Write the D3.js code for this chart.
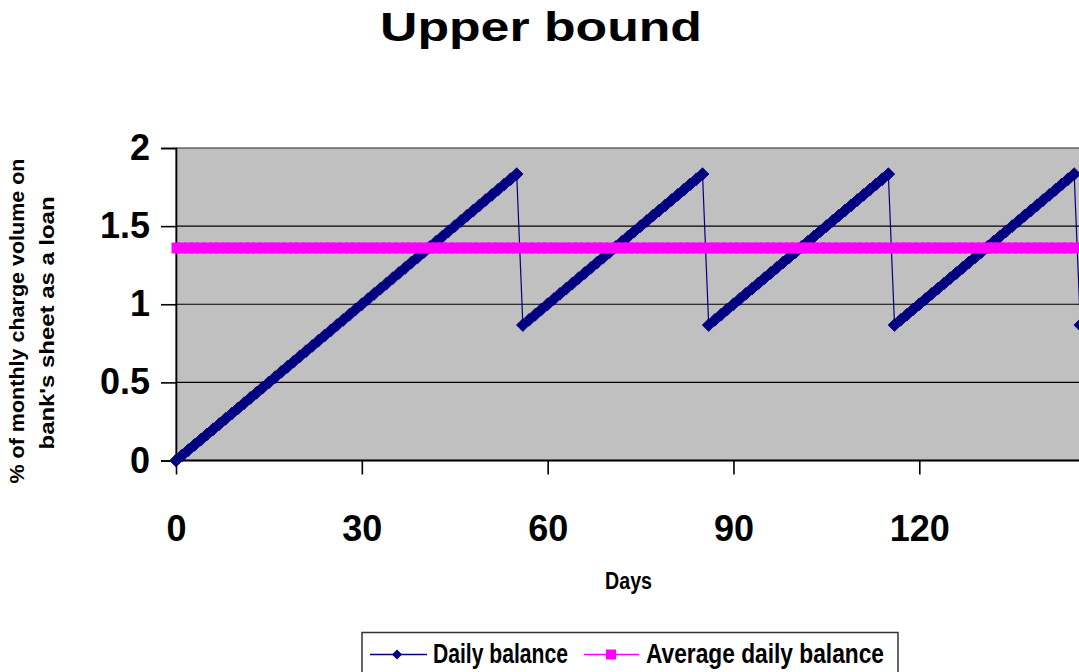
<!DOCTYPE html>
<html><head><meta charset="utf-8">
<script src="https://cdn.jsdelivr.net/npm/d3@7"></script>
<style>
body{margin:0;background:#fff}
svg{display:block}
text{font-family:"Liberation Sans",Arial,sans-serif;font-weight:bold;fill:#000}
</style>
</head><body>
<svg id="c" width="1079" height="672"></svg>
<script>
const title = "Upper bound";
const xTitle = "Days";
const yTitleLines = ["% of monthly charge volume on", "bank's sheet as a loan"];
const xTicks = [0, 30, 60, 90, 120];
const yTicks = [0, 0.5, 1, 1.5, 2];
const seriesNames = ["Daily balance", "Average daily balance"];
// Daily balance, one value per day starting at day 0
const dailyBalance = [
  0, 0.033, 0.067, 0.1, 0.133, 0.167, 0.2, 0.233, 0.267, 0.3,
  0.333, 0.367, 0.4, 0.433, 0.467, 0.5, 0.533, 0.567, 0.6, 0.633,
  0.667, 0.7, 0.733, 0.767, 0.8, 0.833, 0.867, 0.9, 0.933, 0.967,
  1, 1.033, 1.067, 1.1, 1.133, 1.167, 1.2, 1.233, 1.267, 1.3,
  1.333, 1.367, 1.4, 1.433, 1.467, 1.5, 1.533, 1.567, 1.6, 1.633,
  1.667, 1.7, 1.733, 1.767, 1.8, 1.833,
  0.867, 0.9, 0.933, 0.967, 1, 1.033, 1.067, 1.1, 1.133, 1.167, 1.2, 1.233, 1.267, 1.3, 1.333,
  1.367, 1.4, 1.433, 1.467, 1.5, 1.533, 1.567, 1.6, 1.633, 1.667, 1.7, 1.733, 1.767, 1.8, 1.833,
  0.867, 0.9, 0.933, 0.967, 1, 1.033, 1.067, 1.1, 1.133, 1.167, 1.2, 1.233, 1.267, 1.3, 1.333,
  1.367, 1.4, 1.433, 1.467, 1.5, 1.533, 1.567, 1.6, 1.633, 1.667, 1.7, 1.733, 1.767, 1.8, 1.833,
  0.867, 0.9, 0.933, 0.967, 1, 1.033, 1.067, 1.1, 1.133, 1.167, 1.2, 1.233, 1.267, 1.3, 1.333,
  1.367, 1.4, 1.433, 1.467, 1.5, 1.533, 1.567, 1.6, 1.633, 1.667, 1.7, 1.733, 1.767, 1.8, 1.833,
  0.867
];
const averageDailyBalance = 1.36;

const NAVY = "#000080", PINK = "#ff00ff", PLOT = "#c0c0c0";
const svg = d3.select("#c");
const x = d3.scaleLinear().domain([0, 120]).range([176, 919.3]);
const y = d3.scaleLinear().domain([0, 2]).range([460.5, 148]);
const plotRight = 1120;

// plot background
svg.append("rect")
  .attr("x", x(0)).attr("y", y(2))
  .attr("width", plotRight - x(0)).attr("height", y(0) - y(2))
  .attr("fill", PLOT).attr("stroke", "#444").attr("stroke-width", 1.2);

// gridlines
svg.append("g").selectAll("line").data(yTicks.filter(v => v > 0 && v < 2)).join("line")
  .attr("x1", x(0)).attr("x2", plotRight)
  .attr("y1", d => y(d)).attr("y2", d => y(d))
  .attr("stroke", "#000").attr("stroke-width", 1.2);

// axes
const yAxis = svg.append("g").attr("transform", `translate(${x(0)},0)`)
  .call(d3.axisLeft(y).tickValues(yTicks).tickSize(15).tickPadding(11).tickFormat(d => String(d)));
yAxis.select(".domain").attr("stroke", "#000").attr("stroke-width", 1.6);
yAxis.selectAll(".tick line").attr("stroke", "#000").attr("stroke-width", 1.6);
yAxis.selectAll("text").style("font-size", "36px").style("font-family", '"Liberation Sans",Arial,sans-serif').style("font-weight", "bold");

const xAxis = svg.append("g").attr("transform", `translate(0,${y(0)})`)
  .call(d3.axisBottom(x).tickValues(xTicks).tickSize(14).tickPadding(41).tickFormat(d => String(d)));
xAxis.select(".domain").remove();
xAxis.append("line").attr("x1", x(0)).attr("x2", plotRight).attr("stroke", "#000").attr("stroke-width", 2.2);
xAxis.selectAll(".tick line").attr("stroke", "#000").attr("stroke-width", 1.6);
xAxis.selectAll("text").style("font-size", "36px").style("font-family", '"Liberation Sans",Arial,sans-serif').style("font-weight", "bold");

// daily balance series
const diamond = r => `M0,${-r}L${r},0L0,${r}L${-r},0Z`;
svg.append("path").datum(dailyBalance)
  .attr("d", d3.line().x((d, i) => x(i)).y(d => y(d)))
  .attr("fill", "none").attr("stroke", NAVY).attr("stroke-width", 1.2);
svg.append("g").selectAll("path").data(dailyBalance).join("path")
  .attr("transform", (d, i) => `translate(${x(i)},${y(d)})`)
  .attr("d", diamond(6.4)).attr("fill", NAVY).attr("stroke", NAVY).attr("stroke-width", 0.8);

// average daily balance series
const avgPts = dailyBalance.map((d, i) => i);
svg.append("line").attr("x1", x(0)).attr("x2", x(avgPts.length - 1))
  .attr("y1", y(averageDailyBalance)).attr("y2", y(averageDailyBalance))
  .attr("stroke", PINK).attr("stroke-width", 2);
svg.append("g").selectAll("rect").data(avgPts).join("rect")
  .attr("x", i => x(i) - 4.5).attr("y", y(averageDailyBalance) - 5.5)
  .attr("width", 9).attr("height", 11).attr("fill", PINK);

// title
svg.append("text").attr("x", 541).attr("y", 41).attr("text-anchor", "middle")
  .attr("textLength", 322).attr("lengthAdjust", "spacingAndGlyphs")
  .style("font-size", "41px").text(title);

// x title
svg.append("text").attr("x", 628.5).attr("y", 589).attr("text-anchor", "middle")
  .attr("textLength", 47).attr("lengthAdjust", "spacingAndGlyphs")
  .style("font-size", "23px").text(xTitle);

// y title
const yT = [{x: 24, y: 321, len: 325}, {x: 54, y: 323, len: 253}];
yTitleLines.forEach((t, i) => {
  svg.append("text").attr("transform", `translate(${yT[i].x},${yT[i].y}) rotate(-90)`)
    .attr("text-anchor", "middle").attr("textLength", yT[i].len).attr("lengthAdjust", "spacingAndGlyphs")
    .style("font-size", "19.5px").text(t);
});

// legend
const lg = svg.append("g");
lg.append("rect").attr("x", 362).attr("y", 632.5).attr("width", 536).attr("height", 60)
  .attr("fill", "#fff").attr("stroke", "#333").attr("stroke-width", 1.5);
const ly = 654.5;
lg.append("line").attr("x1", 370).attr("x2", 427).attr("y1", ly).attr("y2", ly).attr("stroke", NAVY).attr("stroke-width", 1.5);
lg.append("path").attr("transform", `translate(397,${ly})`).attr("d", diamond(5)).attr("fill", NAVY);
lg.append("text").attr("x", 433).attr("y", 663).attr("textLength", 135).attr("lengthAdjust", "spacingAndGlyphs")
  .style("font-size", "27px").text(seriesNames[0]);
lg.append("line").attr("x1", 584).attr("x2", 639).attr("y1", ly).attr("y2", ly).attr("stroke", PINK).attr("stroke-width", 1.5);
lg.append("rect").attr("x", 606).attr("y", ly - 5).attr("width", 10).attr("height", 10).attr("fill", PINK);
lg.append("text").attr("x", 646).attr("y", 663).attr("textLength", 238).attr("lengthAdjust", "spacingAndGlyphs")
  .style("font-size", "27px").text(seriesNames[1]);
</script>
</body></html>
